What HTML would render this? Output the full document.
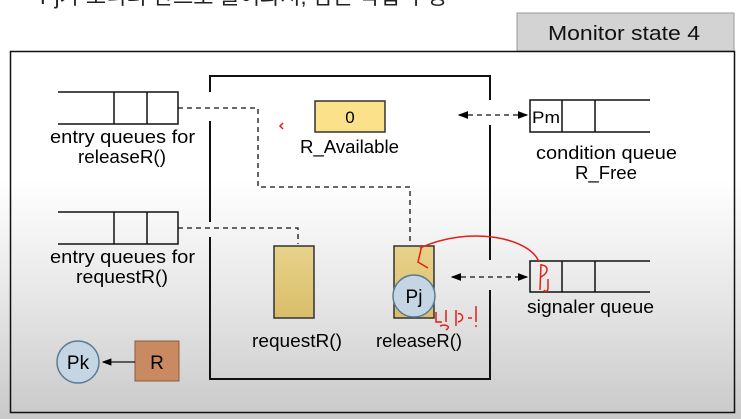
<!DOCTYPE html>
<html><head><meta charset="utf-8"><style>
html,body{margin:0;padding:0;}
body{width:741px;height:419px;overflow:hidden;background:linear-gradient(#fff 0px,#fff 180px,#e6e6e6 300px,#c9c9c9 419px);font-family:"Liberation Sans","Noto Sans CJK KR",sans-serif;}
</style></head><body>
<svg width="741" height="419" xmlns="http://www.w3.org/2000/svg" style="position:absolute;left:0;top:0">
<defs>
<marker id="a" markerWidth="8" markerHeight="8" refX="7" refY="4" orient="auto-start-reverse"><path d="M0,1 L8,4 L0,7z" fill="#000"/></marker>
<linearGradient id="t" x1="0" y1="0" x2="0" y2="1"><stop offset="0" stop-color="#e8d28a"/><stop offset="1" stop-color="#d9bd6a"/></linearGradient>
</defs>
<g lengthAdjust="spacingAndGlyphs">
<text x="40" y="4" font-size="22" fill="#222">Pj가 모니터 안으로 들어와서, 잠든 작업 수행</text>
<rect x="517" y="13" width="217" height="38" fill="#d3d3d3" stroke="#999"/>
<text x="548" y="40" font-size="20" fill="#111" textLength="152" lengthAdjust="spacingAndGlyphs">Monitor state 4</text>
<rect x="10.5" y="51.5" width="724" height="361" fill="none" stroke="#111" stroke-width="1.5"/>
<g stroke="#111" stroke-width="2" fill="none">
<path d="M210,92 V76 H490 V100"/>
<path d="M210,121 V222"/><path d="M210,237 V379 H490 V290"/><path d="M490,125 V260"/>
</g>
<g stroke="#111" stroke-width="1.5" fill="none">
<path d="M58,92 H178 V124 H58 M114,92 V124 M147,92 V124"/>
<path d="M58,212 H178 V244 H58 M114,212 V244 M147,212 V244"/>
<path d="M650,100 H530 V132 H650 M562,100 V132 M595,100 V132"/>
<path d="M650,261 H530 V292 H650 M562,261 V292 M595,261 V292"/>
</g>
<g stroke="#111" stroke-width="1.3" stroke-dasharray="5,4" fill="none">
<path d="M178,108 H258 V187 H410 V245"/>
<path d="M178,228 H298 V244"/>
<path d="M459,115 H527" marker-start="url(#a)" marker-end="url(#a)"/>
<path d="M452,277 H527" marker-start="url(#a)" marker-end="url(#a)"/>
</g>
<rect x="315" y="101" width="70" height="31" fill="#fbe18a" stroke="#333" stroke-width="1.5"/>
<text x="350" y="123" font-size="17" text-anchor="middle">0</text>
<text x="300" y="153" font-size="18" textLength="99" lengthAdjust="spacingAndGlyphs">R_Available</text>
<text x="532" y="123" font-size="17" textLength="28" lengthAdjust="spacingAndGlyphs">Pm</text>
<text x="536" y="159" font-size="18" textLength="141" lengthAdjust="spacingAndGlyphs">condition queue</text>
<text x="575" y="179" font-size="18" textLength="62" lengthAdjust="spacingAndGlyphs">R_Free</text>
<text x="50" y="143" font-size="18" textLength="145" lengthAdjust="spacingAndGlyphs">entry queues for</text>
<text x="78" y="163" font-size="18" textLength="88" lengthAdjust="spacingAndGlyphs">releaseR()</text>
<text x="50" y="263" font-size="18" textLength="145" lengthAdjust="spacingAndGlyphs">entry queues for</text>
<text x="76" y="283" font-size="18" textLength="92" lengthAdjust="spacingAndGlyphs">requestR()</text>
<rect x="274" y="246" width="40" height="72" fill="url(#t)" stroke="#333" stroke-width="1.5"/>
<rect x="394" y="246" width="40" height="72" fill="url(#t)" stroke="#333" stroke-width="1.5"/>
<text x="252" y="347" font-size="18" textLength="90" lengthAdjust="spacingAndGlyphs">requestR()</text>
<text x="376" y="347" font-size="18" textLength="86" lengthAdjust="spacingAndGlyphs">releaseR()</text>
<circle cx="414" cy="296" r="21" fill="#c5d5e3" stroke="#5a7a95" stroke-width="1.5"/>
<text x="414" y="303" font-size="19" text-anchor="middle">Pj</text>
<text x="527" y="313" font-size="18" textLength="127" lengthAdjust="spacingAndGlyphs">signaler queue</text>
<circle cx="78" cy="362" r="21" fill="#c5d5e3" stroke="#5a7a95" stroke-width="1.5"/>
<text x="78" y="369" font-size="19" text-anchor="middle">Pk</text>
<rect x="135" y="341" width="44" height="40" fill="#c98a62" stroke="#8a5a3a"/>
<text x="157" y="369" font-size="19" text-anchor="middle">R</text>
<path d="M135,362 H103" stroke="#111" stroke-width="1.2" marker-end="url(#a)"/>
<g stroke="#e0201a" stroke-width="1.5" fill="none">
<path d="M539,262 C530,238 470,225 420,248 M422,245 L418,262 L428,268"/>
<path d="M541,264 L540,290 M541,265 C548,265 550,272 541,277 M548,279 L548,288 C548,292 545,292 544,290"/>
<path d="M283,123 L280,126 L283,129"/>
<path d="M436,312 L436,322 L442,322 M446,310 L446,322 M440,326 C445,324 452,326 446,330 M456,310 L456,326 M458,314 C462,312 466,320 458,322 M468,318 L472,318 M476,306 L476,322 M476,325 L476,327"/>
</g>
</g>
</svg>
</body></html>
